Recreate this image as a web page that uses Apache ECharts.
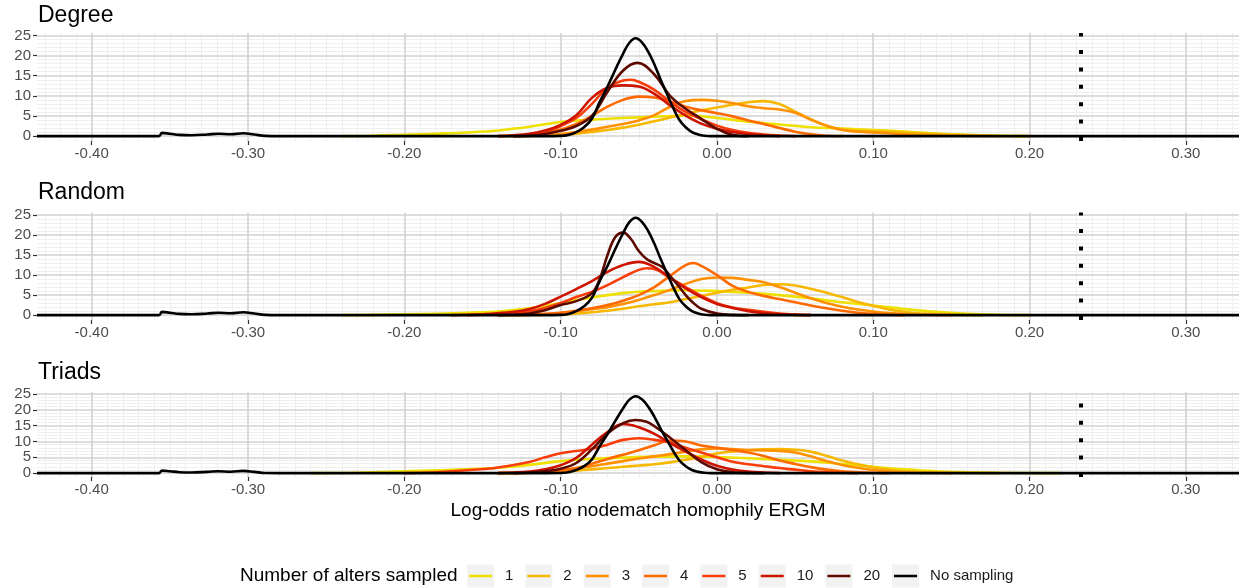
<!DOCTYPE html>
<html>
<head>
<meta charset="utf-8">
<title>Log-odds ratio density</title>
<script src="https://cdn.jsdelivr.net/npm/echarts@6/dist/echarts.min.js"></script>
<style>
  html, body { margin: 0; padding: 0; background: #fff; }
  #chart { width: 1239px; height: 588px; }
</style>
</head>
<body>
<div id="chart"></div>
<script>
// ---- data ([x, density]) ----
var seriesNames = ['1', '2', '3', '4', '5', '10', '20', 'No sampling'];
var panelTitles = ['Degree', 'Random', 'Triads'];
var xTicks = [-0.4, -0.3, -0.2, -0.1, 0, 0.1, 0.2, 0.3];
var yTicks = [0, 5, 10, 15, 20, 25];
var refLineX = 0.2327;

var noSampling = [[-0.435,0],[-0.357,0],[-0.355,0.8],[-0.35,0.6],[-0.344,0.3],[-0.336,0.2],[-0.326,0.4],[-0.319,0.6],[-0.311,0.45],[-0.303,0.7],[-0.296,0.4],[-0.289,0.05],[-0.28,0],[-0.11,0],[-0.1,0.05],[-0.095,0.3],[-0.09,1],[-0.085,2.2],[-0.08,4.3],[-0.075,8.5],[-0.07,12.3],[-0.065,16.5],[-0.06,20.5],[-0.056,23.2],[-0.052,24.3],[-0.048,23.3],[-0.044,21],[-0.04,17.8],[-0.036,14],[-0.032,10.5],[-0.028,7],[-0.024,4],[-0.02,2.2],[-0.016,1],[-0.012,0.4],[-0.008,0.1],[-0.004,0],[0.334,0]];

var deg1 = [[-0.24,0],[-0.22,0.1],[-0.2,0.35],[-0.18,0.6],[-0.16,0.9],[-0.14,1.4],[-0.12,2.3],[-0.1,3.5],[-0.08,4.1],[-0.06,4.5],[-0.04,4.8],[-0.02,5.1],[0,4.5],[0.02,3.6],[0.04,2.9],[0.06,2.2],[0.08,1.9],[0.1,1.5],[0.12,1.15],[0.14,0.65],[0.16,0.35],[0.18,0.1],[0.2,0]];
var deg2 = [[-0.14,0],[-0.12,0.05],[-0.1,0.3],[-0.09,0.6],[-0.08,1],[-0.07,1.5],[-0.06,2.1],[-0.05,2.8],[-0.04,3.7],[-0.03,4.6],[-0.02,5.5],[-0.01,6.4],[0,7.1],[0.01,7.8],[0.02,8.4],[0.03,8.7],[0.04,8],[0.05,6.1],[0.06,4.2],[0.07,2.6],[0.08,1.7],[0.09,1.3],[0.1,1.2],[0.11,1.05],[0.12,0.9],[0.14,0.5],[0.16,0.2],[0.18,0.05],[0.2,0]];
var deg3 = [[-0.13,0],[-0.12,0.05],[-0.11,0.2],[-0.1,0.5],[-0.09,1],[-0.08,1.6],[-0.07,2.3],[-0.06,3],[-0.05,3.9],[-0.04,5.2],[-0.03,7.3],[-0.02,8.7],[-0.01,9],[0,8.8],[0.01,8.2],[0.02,7.4],[0.03,6.9],[0.04,6.6],[0.05,5.8],[0.06,4.1],[0.07,2.6],[0.08,1.5],[0.09,1.1],[0.1,0.9],[0.11,0.7],[0.12,0.45],[0.14,0.15],[0.16,0.05],[0.18,0]];
var deg4 = [[-0.14,0],[-0.13,0.1],[-0.12,0.3],[-0.11,0.8],[-0.1,1.6],[-0.09,3],[-0.08,5],[-0.07,7.3],[-0.06,9],[-0.05,9.8],[-0.04,9.6],[-0.03,8.6],[-0.02,7.3],[-0.01,6.4],[0,5.7],[0.01,4.9],[0.02,3.9],[0.03,3],[0.04,2],[0.05,1.1],[0.06,0.45],[0.07,0.1],[0.08,0]];
var deg5 = [[-0.13,0],[-0.12,0.2],[-0.11,0.8],[-0.1,2.5],[-0.09,4.5],[-0.08,8],[-0.07,12],[-0.06,13.8],[-0.055,14],[-0.05,13.5],[-0.04,11.5],[-0.03,8.5],[-0.02,6],[-0.01,4.2],[0,2.6],[0.01,1.5],[0.02,0.8],[0.03,0.4],[0.04,0.15],[0.05,0]];
var deg10 = [[-0.14,0],[-0.13,0.2],[-0.12,0.6],[-0.11,1.4],[-0.1,2.8],[-0.09,5.2],[-0.08,9.5],[-0.07,12],[-0.06,12.6],[-0.05,12.3],[-0.04,10.5],[-0.03,7.6],[-0.02,5.1],[-0.01,3.1],[0,1.8],[0.01,1],[0.02,0.5],[0.03,0.2],[0.04,0]];
var deg20 = [[-0.13,0],[-0.12,0.1],[-0.11,0.5],[-0.1,1.3],[-0.09,2.5],[-0.08,5],[-0.07,11],[-0.06,16.3],[-0.051,18.2],[-0.04,15.3],[-0.03,10],[-0.02,6.8],[-0.01,4.3],[0,1.8],[0.01,0.3],[0.02,0]];

var ran1 = [[-0.24,0],[-0.22,0.05],[-0.2,0.2],[-0.18,0.35],[-0.16,0.6],[-0.14,0.9],[-0.12,1.7],[-0.1,3],[-0.08,4.4],[-0.06,5.5],[-0.04,6],[-0.02,6.2],[0,6],[0.02,5.6],[0.04,5],[0.06,4.2],[0.08,3.2],[0.1,2.4],[0.12,1.5],[0.14,0.8],[0.16,0.35],[0.18,0.1],[0.2,0]];
var ran2 = [[-0.14,0],[-0.12,0.05],[-0.1,0.2],[-0.09,0.4],[-0.08,0.7],[-0.07,1.1],[-0.06,1.6],[-0.05,2.2],[-0.04,2.7],[-0.03,3.2],[-0.02,4],[-0.01,4.8],[0,5.6],[0.01,6.3],[0.02,6.9],[0.03,7.5],[0.04,7.7],[0.05,7.4],[0.06,6.6],[0.07,5.6],[0.08,4.5],[0.09,3.3],[0.1,2.3],[0.11,1.4],[0.12,0.8],[0.13,0.4],[0.15,0.1],[0.17,0]];
var ran3 = [[-0.14,0],[-0.12,0.1],[-0.1,0.5],[-0.09,1],[-0.08,1.5],[-0.07,2],[-0.06,2.8],[-0.05,3.8],[-0.04,5],[-0.03,6.3],[-0.02,7.8],[-0.01,9],[0,9.4],[0.01,9.3],[0.02,8.8],[0.03,8.2],[0.04,7],[0.05,5.6],[0.06,4.2],[0.07,3],[0.08,2.1],[0.09,1.4],[0.1,0.9],[0.11,0.5],[0.12,0.25],[0.14,0.05],[0.15,0]];
var ran4 = [[-0.13,0],[-0.12,0.1],[-0.11,0.3],[-0.1,0.6],[-0.09,1.1],[-0.08,1.7],[-0.07,2.5],[-0.06,3.6],[-0.05,5],[-0.04,7],[-0.03,9.8],[-0.02,12.5],[-0.015,13],[-0.01,12.3],[0,10],[0.01,7.3],[0.02,5.8],[0.03,4.8],[0.04,4],[0.05,3.2],[0.06,2.4],[0.07,1.7],[0.08,1.1],[0.09,0.6],[0.1,0.3],[0.11,0.1],[0.12,0]];
var ran5 = [[-0.16,0],[-0.14,0.2],[-0.13,0.5],[-0.12,1],[-0.11,1.8],[-0.1,3],[-0.09,4.5],[-0.08,5.8],[-0.07,7.5],[-0.06,9.5],[-0.05,11.3],[-0.045,11.7],[-0.04,11.5],[-0.03,9.3],[-0.02,7],[-0.01,4.8],[0,3],[0.01,1.9],[0.02,1.3],[0.03,0.8],[0.04,0.4],[0.05,0.15],[0.06,0]];
var ran10 = [[-0.17,0],[-0.15,0.2],[-0.13,0.8],[-0.12,1.5],[-0.11,2.8],[-0.1,4.6],[-0.09,6.5],[-0.08,8.5],[-0.07,10.8],[-0.06,12.5],[-0.05,13.3],[-0.04,12],[-0.03,9.3],[-0.02,6.7],[-0.01,4.5],[0,2.8],[0.01,1.8],[0.02,1],[0.03,0.5],[0.04,0.2],[0.05,0.05],[0.06,0]];
var ran20 = [[-0.14,0],[-0.13,0.1],[-0.12,0.4],[-0.11,1.2],[-0.1,2.5],[-0.09,3.5],[-0.08,5.5],[-0.075,9],[-0.07,15],[-0.065,19.5],[-0.06,20.6],[-0.055,19],[-0.05,16],[-0.045,14],[-0.04,13],[-0.035,12],[-0.03,9.8],[-0.025,7.5],[-0.02,5],[-0.015,3],[-0.01,1.6],[0,0.4],[0.01,0.05],[0.02,0]];

var tri1 = [[-0.26,0],[-0.24,0.05],[-0.22,0.3],[-0.2,0.6],[-0.18,0.9],[-0.16,1.2],[-0.14,1.7],[-0.12,2.6],[-0.1,3.8],[-0.08,4.5],[-0.06,4.9],[-0.04,5.2],[-0.02,5.3],[0,5.1],[0.02,4.7],[0.04,4.2],[0.06,3.7],[0.08,2.9],[0.1,2],[0.12,1.2],[0.14,0.6],[0.16,0.3],[0.18,0.1],[0.2,0.02],[0.22,0]];
var tri2 = [[-0.14,0],[-0.12,0.1],[-0.1,0.4],[-0.09,0.8],[-0.08,1.2],[-0.07,1.6],[-0.06,2],[-0.05,2.4],[-0.04,2.8],[-0.03,3.4],[-0.02,4.2],[-0.01,5.2],[0,6.2],[0.01,6.8],[0.02,7.2],[0.03,7.5],[0.04,7.6],[0.05,7.4],[0.06,6.8],[0.07,5.5],[0.08,4],[0.09,2.8],[0.1,1.8],[0.11,1.1],[0.12,0.6],[0.14,0.2],[0.16,0.05],[0.18,0]];
var tri3 = [[-0.14,0],[-0.12,0.1],[-0.11,0.4],[-0.1,0.9],[-0.09,1.5],[-0.08,2.2],[-0.07,3],[-0.06,3.8],[-0.05,4.6],[-0.04,5.3],[-0.03,6],[-0.02,6.8],[-0.01,7.5],[0,7.8],[0.01,7.6],[0.02,7.3],[0.03,7.2],[0.04,7],[0.05,6.5],[0.06,5.3],[0.07,3.8],[0.08,2.6],[0.09,1.7],[0.1,1],[0.11,0.5],[0.12,0.2],[0.14,0.05],[0.15,0]];
var tri4 = [[-0.14,0],[-0.12,0.1],[-0.1,0.8],[-0.09,1.6],[-0.08,3],[-0.07,4.5],[-0.06,5.8],[-0.05,7.2],[-0.04,8.8],[-0.03,10.3],[-0.02,10],[-0.01,8.7],[0,8],[0.01,7.3],[0.02,6.5],[0.03,5.4],[0.04,4],[0.05,2.9],[0.06,1.9],[0.07,1.1],[0.08,0.6],[0.09,0.3],[0.1,0.1],[0.11,0]];
var tri5 = [[-0.2,0],[-0.18,0.3],[-0.16,0.9],[-0.14,1.8],[-0.12,3.5],[-0.11,5],[-0.1,6.3],[-0.09,7],[-0.08,7.7],[-0.07,9],[-0.06,10.5],[-0.05,11],[-0.04,10.5],[-0.03,9.7],[-0.02,8],[-0.01,6.5],[0,5],[0.01,3.6],[0.02,2.8],[0.03,2.2],[0.04,1.6],[0.05,1.1],[0.06,0.6],[0.07,0.3],[0.08,0.1],[0.09,0]];
var tri10 = [[-0.14,0],[-0.13,0.2],[-0.12,0.5],[-0.11,1.2],[-0.1,2.5],[-0.09,4.8],[-0.08,9],[-0.07,13],[-0.06,15.5],[-0.05,14.5],[-0.04,12.4],[-0.03,9.5],[-0.02,6.8],[-0.01,4.3],[0,2.3],[0.01,1.1],[0.02,0.5],[0.03,0.2],[0.04,0]];
var tri20 = [[-0.13,0],[-0.12,0.2],[-0.11,0.6],[-0.1,1.4],[-0.09,3.2],[-0.08,7.5],[-0.07,12.5],[-0.06,15.8],[-0.052,16.8],[-0.045,16.2],[-0.04,14.8],[-0.03,11.2],[-0.02,7.3],[-0.01,3.5],[0,1.2],[0.01,0.3],[0.02,0.05],[0.03,0]];

var colors = ['#EEE000', '#F6B800', '#FF9000', '#FF6A00', '#F83C0A', '#CC1400', '#5C0A00', '#000000'];

// ---- layout ----
var X_MIN = -0.435, X_MAX = 0.334, Y_MIN = -1.22, Y_MAX = 25.62;
var FONT = '"Liberation Sans", Arial, sans-serif';
var grids = [
  { left: 37, right: 0, top: 33, height: 108 },
  { left: 37, right: 0, top: 212.5, height: 107.5 },
  { left: 37, right: 0, top: 392, height: 85 }
];

var panels = [
  [deg1, deg2, deg3, deg4, deg5, deg10, deg20, noSampling],
  [ran1, ran2, ran3, ran4, ran5, ran10, ran20, noSampling],
  [tri1, tri2, tri3, tri4, tri5, tri10, tri20, noSampling]
];

// minor grid lines (every 0.01 on x, every 1 on y)
var minorLines = [];
for (var k = -43; k <= 33; k++) {
  if (k % 10 !== 0) minorLines.push({ xAxis: k / 100 });
}
for (var m = 1; m < 25; m++) {
  if (m % 5 !== 0) minorLines.push({ yAxis: m });
}

var chart = echarts.init(document.getElementById('chart'));

var xAxes = [], yAxes = [], titles = [], series = [];
grids.forEach(function (g, i) {
  xAxes.push({
    type: 'value', gridIndex: i, min: X_MIN, max: X_MAX, z: 2,
    axisLine: { show: false, onZero: false },
    axisTick: { show: true, length: 4, customValues: xTicks, lineStyle: { color: '#333', width: 1.2 } },
    axisLabel: { customValues: xTicks, margin: 5, fontSize: 15, color: '#4D4D4D', fontFamily: FONT,
      formatter: function (v) { return v.toFixed(2); } },
    splitLine: { show: true, lineStyle: { color: '#D2D2D2', width: 1.6 } },
    name: i === 2 ? 'Log-odds ratio nodematch homophily ERGM' : '',
    nameLocation: 'middle', nameGap: 24,
    nameTextStyle: { fontSize: 19, color: '#000', fontFamily: FONT }
  });
  yAxes.push({
    type: 'value', gridIndex: i, min: Y_MIN, max: Y_MAX, z: 2,
    axisLine: { show: false, onZero: false },
    axisTick: { show: true, length: 4, customValues: yTicks, lineStyle: { color: '#333', width: 1.2 } },
    axisLabel: { customValues: yTicks, margin: 6, fontSize: 15, color: '#4D4D4D', fontFamily: FONT },
    splitLine: { show: true, lineStyle: { color: '#D2D2D2', width: 1.6 } }
  });
  titles.push({
    text: panelTitles[i], left: 38, top: [4, 181, 361][i], padding: 0,
    textStyle: { fontSize: 23, fontWeight: 'normal', color: '#000', fontFamily: FONT }
  });
  // background minor grid + dotted reference line
  series.push({
    type: 'line', xAxisIndex: i, yAxisIndex: i, data: [], z: 1, silent: true,
    markLine: {
      z: 1, silent: true, animation: false, symbol: ['none', 'none'], label: { show: false },
      lineStyle: { color: '#EFEFEF', width: 1, type: 'solid' },
      data: minorLines
    }
  });
  series.push({
    type: 'line', xAxisIndex: i, yAxisIndex: i, data: [], z: 3, silent: true,
    markLine: {
      z: 3, silent: true, animation: false, symbol: ['none', 'none'], label: { show: false },
      lineStyle: { color: '#000', width: 4, type: [4, 13.4], cap: 'butt' },
      data: [[{ coord: [refLineX, Y_MIN] }, { coord: [refLineX, Y_MAX] }]]
    }
  });
  panels[i].forEach(function (d, j) {
    series.push({
      name: seriesNames[j], type: 'line', xAxisIndex: i, yAxisIndex: i,
      data: d, smooth: 0.4, showSymbol: false, symbol: 'none',
      lineStyle: { width: 2.6, color: colors[j], join: 'round' }, itemStyle: { color: colors[j] },
      z: 4 + j, silent: true
    });
  });
});

titles.push({
  text: 'Number of alters sampled', left: 240, top: 566, padding: 0,
  textStyle: { fontSize: 19, fontWeight: 'normal', color: '#000', fontFamily: FONT }
});

var legendBase = {
  data: seriesNames, left: 467, top: 564.5, orient: 'horizontal',
  itemWidth: 27, itemHeight: 23, itemGap: 12, selectedMode: false, padding: 0
};

chart.setOption({
  animation: false,
  backgroundColor: '#fff',
  title: titles,
  grid: grids,
  xAxis: xAxes,
  yAxis: yAxes,
  legend: [
    Object.assign({}, legendBase, {
      z: 3, icon: 'rect',
      itemStyle: { color: '#F2F2F2', borderWidth: 0 },
      textStyle: { fontSize: 15, color: 'rgba(0,0,0,0)', fontFamily: FONT, padding: [0, 0, 0, 6] }
    }),
    Object.assign({}, legendBase, {
      z: 4, icon: 'path://M0,0L0.01,0M27,23L26.99,23M2,10.2L25,10.2L25,12.8L2,12.8Z',
      itemStyle: { borderWidth: 0 },
      textStyle: { fontSize: 15, color: '#1A1A1A', fontFamily: FONT, padding: [0, 0, 0, 6] }
    })
  ],
  series: series
});
</script>
</body>
</html>
